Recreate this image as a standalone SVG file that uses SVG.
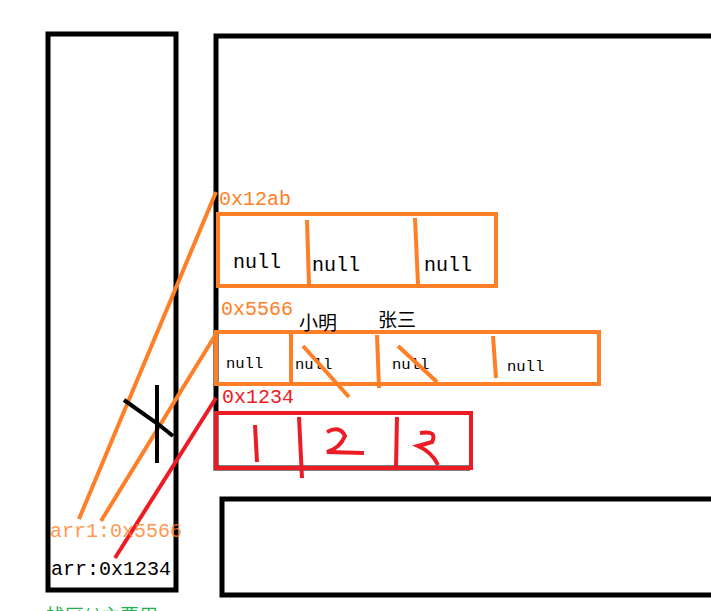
<svg xmlns="http://www.w3.org/2000/svg" width="711" height="611" viewBox="0 0 711 611">
<style>
.blk{fill:none;stroke:#000;stroke-width:5}
.or{fill:none;stroke:#ff7f27;stroke-width:4}
.rd{fill:none;stroke:#ed1c24;stroke-width:4}
.t{font-family:"Liberation Mono","Noto Sans CJK SC",monospace;font-size:20px}
.ts{font-family:"Liberation Mono",monospace;font-size:15.5px}
.cn{font-family:"Noto Sans CJK SC",sans-serif;font-size:19px}
</style>
<rect width="711" height="611" fill="#fff"/>
<g id="stack"><rect class="blk" x="48" y="34" width="128" height="556"/></g>
<g id="heap"><path class="blk" d="M711 36 H216 V468 H470"/></g>
<g id="methodarea"><path class="blk" d="M711 499 H222 V595 H711"/></g>
<g id="arr0"><rect class="or" x="218" y="214" width="278" height="72"/>
<path class="or" d="M307 220 L309 284 M415 218 L418 284"/>
<text class="t" x="233" y="268">null</text><text class="t" x="312" y="271">null</text><text class="t" x="424" y="271">null</text>
<text class="t" x="219" y="205" fill="#ff7f27">0x12ab</text></g>
<g id="arr1"><rect class="or" x="216" y="332" width="383" height="52"/>
<path class="or" d="M291 334 V384 M377 335 L379 388 M493 336 L496 378"/>
<text class="ts" x="226" y="368">null</text><text class="ts" x="295" y="369">null</text><text class="ts" x="392" y="369">null</text><text class="ts" x="507" y="371">null</text>
<path class="or" d="M303 346 L349 397 M398 346 L437 382"/>
<text class="t" x="221" y="315" fill="#ff7f27">0x5566</text>
<text class="cn" x="299" y="330">小明</text><text class="cn" x="378" y="327">张三</text></g>
<g id="arr"><rect class="rd" x="216" y="413" width="255" height="55"/>
<path class="rd" d="M299 417 L302 478 M397 417 L396 468"/>
<path class="rd" d="M255 425 L257 462 M327 432 Q340 425 345 436 Q340 448 327 452 L364 453 M420 433 Q438 430 432 442 L418 446 Q432 452 438 465"/>
<text class="t" x="222" y="403" fill="#ed1c24">0x1234</text></g>
<g id="connectors">
<path class="or" d="M79 519 L216 192 M101 521 L216 334"/>
<path class="rd" d="M115 558 L216 398"/>
<path d="M124 400 L158 424 L173 436" stroke="#000" stroke-width="4" fill="none"/>
<path d="M157 385 V463" stroke="#000" stroke-width="4"/>
</g>
<g id="labels">
<text class="t" x="50" y="537" fill="#ff7f27" opacity="0.8">arr1:0x5566</text>
<text class="t" x="51" y="575">arr:0x1234</text>
<text class="cn" x="46" y="623" fill="#22b14c" font-size="17">栈区(        )主要用</text>
</g>
</svg>
